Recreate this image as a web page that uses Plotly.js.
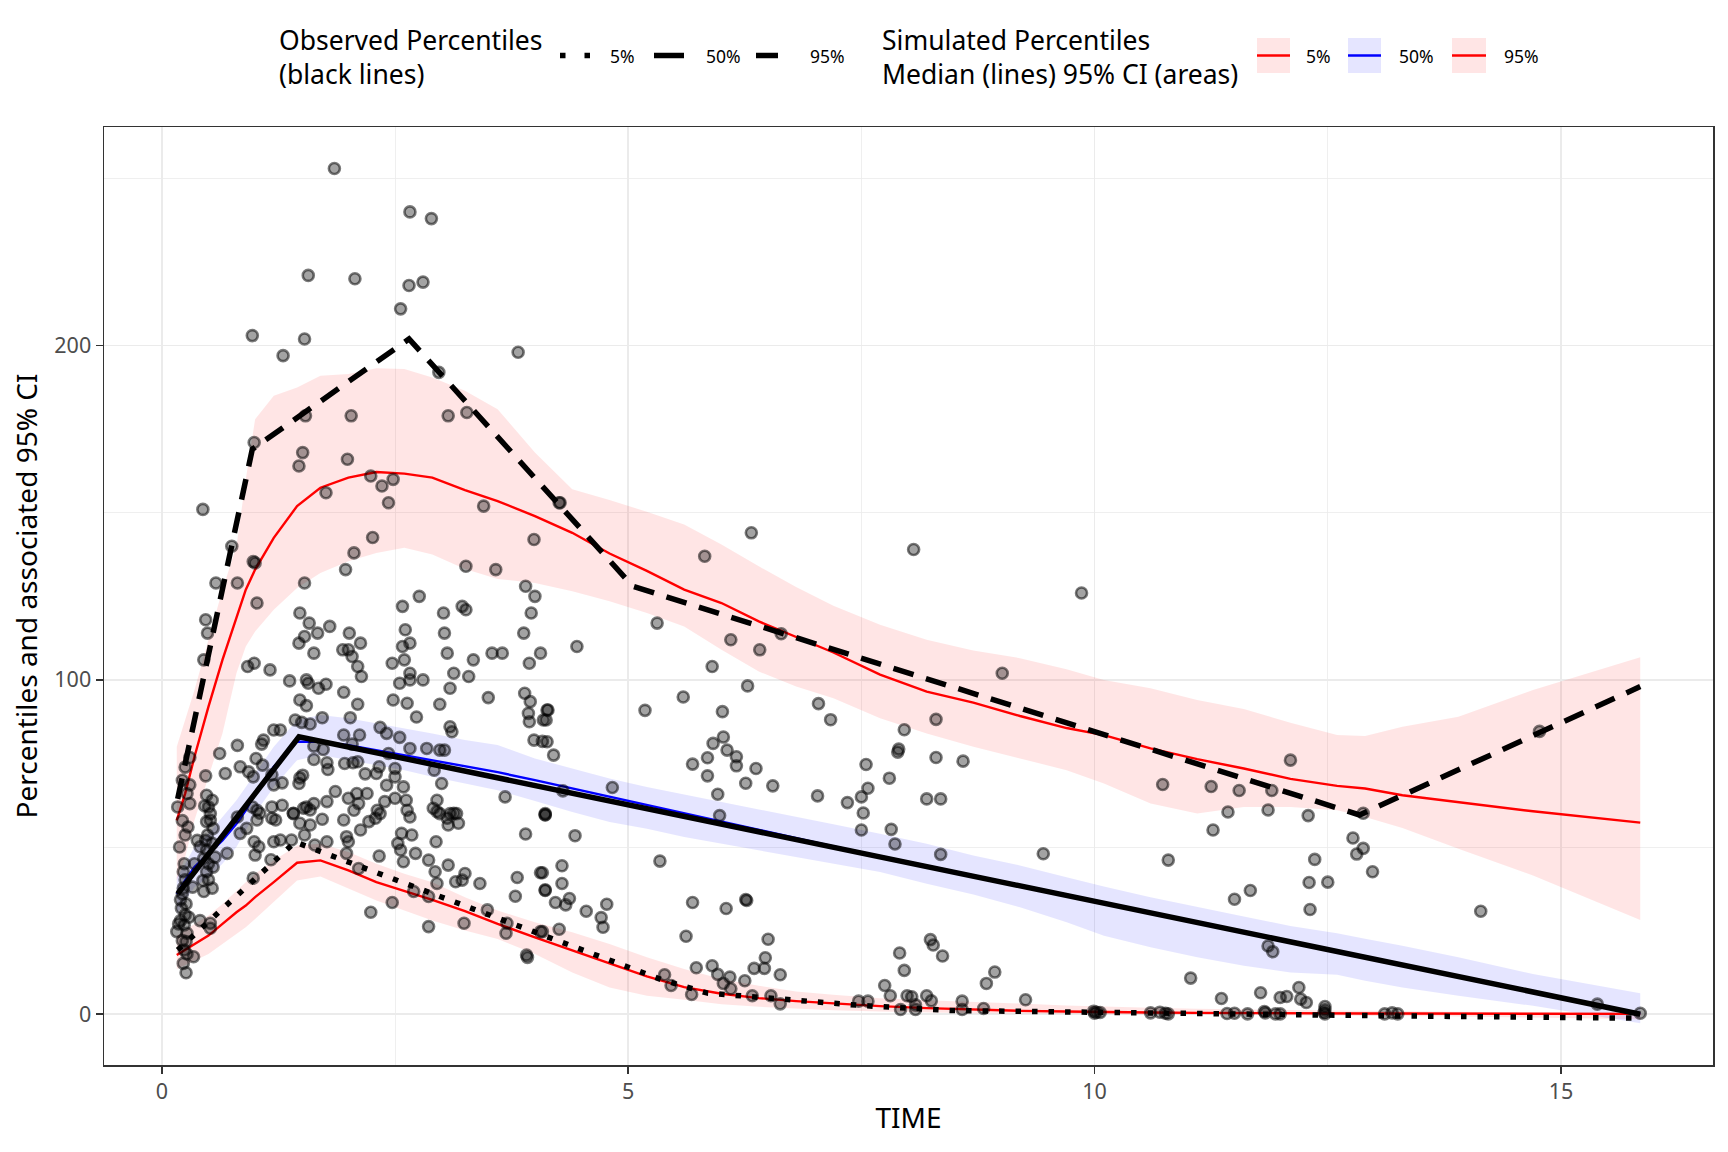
<!DOCTYPE html>
<html>
<head>
<meta charset="utf-8">
<script src="https://cdn.plot.ly/plotly-3.0.1.min.js"></script>
<style>
  html, body { margin: 0; padding: 0; background: #fff; }
  #chart { width: 1728px; height: 1152px; }
</style>
</head>
<body>
<div id="chart"></div>
<script>
// observed concentrations [time, value]
var observed = [
  // upper cloud
  [1.85,253],[2.66,240],[2.89,238],[1.57,221],[2.07,220],[2.65,218],[2.8,219],[2.56,211],[0.97,203],[1.53,202],
  [1.3,197],[3.82,198],[2.97,192],[1.54,179],[2.03,179],[3.07,179],[3.27,180],[0.99,171],[1.51,168],[1.47,164],
  [1.99,166],[2.24,161],[2.36,158],[2.48,160],[2.43,153],[1.76,156],[3.45,152],[4.26,153],[0.44,151],[2.26,142.6],
  [3.99,142],
  // 0.3 - 4.1 h, 60 - 140
  [0.75,140],[0.98,135.4],[1.0,135],[0.58,129],[0.81,129],[1.53,129],[1.02,123],[2.06,138],[1.97,133],[3.26,134],
  [3.58,133],[0.47,118],[0.49,114],[0.45,106],[0.92,104],[0.99,105],[1.16,103],[1.48,120],[1.58,117],[1.67,114],
  [1.8,116],[1.53,113],[1.47,111],[1.63,108],[2.01,114],[2.13,111],[1.94,109],[2.0,109],[2.04,107],[2.1,104],
  [2.14,101],[2.58,122],[2.76,125],[2.61,115],[2.66,111],[2.58,110],[2.47,105],[2.6,106],[2.66,102],[2.66,100],
  [2.55,99],[2.8,100],[3.02,120],[3.22,122],[3.26,121],[3.03,114],[3.06,108],[3.34,106],[3.13,102],[3.29,101],
  [3.09,97.5],[3.54,108],[3.65,108],[3.9,128],[4.0,125],[3.96,120],[3.88,114],[4.06,108],[3.94,105],[3.89,96],
  [3.95,93.5],[3.93,90],[3.94,87.5],[4.09,88],[4.13,91],[3.99,82],[4.08,81.6],[3.5,94.7],[2.98,92.7],[1.37,99.7],
  [1.55,100],[1.57,99],[1.68,97.5],[1.76,98.7],[1.95,96.3],[1.48,94],[1.55,92.3],[2.1,92.7],[2.02,88.7],[2.48,94],
  [2.63,93],[2.73,88.9],[2.34,85.8],[2.41,84],[2.55,82.8],[3.09,86],[3.11,84.5],[2.98,79],[2.84,79.5],[3.03,79],
  [2.66,79.5],[2.43,78],[2.33,74],[2.5,73.5],[2.59,68],[2.3,72],[2.41,68.5],[2.5,71],[2.92,73],[3.0,69],
  [3.68,65],[1.43,88],[1.5,87.3],[1.59,86.8],[1.2,85],[1.27,85],[1.72,88.7],[1.95,83.5],[2.12,83.5],[1.63,80.2],
  [1.73,79.2],[2.04,80.8],[1.96,75],[2.05,75.2],[2.1,75.5],[2.18,71.9],[1.63,76.2],[1.77,75.2],[1.78,73.2],[1.48,70.7],
  [1.51,71.5],[1.47,69],[1.29,69.2],[1.09,82],[1.07,80.8],[0.81,80.4],[0.62,78],[1.01,76.5],[0.84,74],[0.93,72.5],
  [0.98,71],[0.68,72],[0.47,71.3],[0.3,76.8],[0.25,73.9],[0.3,68.6],[1.08,74.5],[1.2,68.6],[1.18,71.6],[2.39,63.6],
  [2.34,60],[2.62,64],[2.63,61],[2.66,59],[2.95,64],[2.98,60],[3.09,60],[3.16,60],[4.11,60],[1.77,63.6],
  [1.86,66.6],[2.0,64.6],[2.09,66],[2.2,66],[2.11,63],[2.06,61],[2.31,61],[2.5,64.6],[1.55,62],[1.63,63],
  [1.41,60],[1.29,62.5],[1.18,62],[0.97,62],[1.02,61],[0.81,59],[0.48,65.5],[0.54,64],[0.5,62],
  // early, low values
  [0.22,57.9],[0.25,53.6],[0.46,62.3],[0.52,60],[0.48,57.6],[0.55,55.6],[0.49,53.6],[0.54,51.1],[0.48,49.1],[0.41,50.1],
  [0.45,46.6],[0.23,42.6],[0.25,40.2],[0.23,37.7],[0.48,42.6],[0.5,40.2],[0.54,37.7],[0.45,36.7],[0.55,44],[0.57,47],
  [0.21,31.7],[0.25,29.7],[0.24,26.7],[0.16,24.7],[0.27,24.2],[0.26,21.7],[0.24,19.2],[0.23,15.2],[0.26,12.4],[0.34,17.2],
  [0.41,28],[0.52,27.2],[0.52,25.7],[0.2,34.2],[0.7,48.1],[0.84,54.1],[0.91,55.6],[1.02,58.1],[1.05,60.1],[1.0,47.6],
  [1.04,50.1],[0.99,51.6],[0.98,40.7],[1.17,46.2],[1.2,51.6],[1.27,52.1],[1.39,52.1],[1.18,58.6],[1.22,58.1],[1.41,60.1],
  [1.52,61.6],[1.59,61.1],[1.48,57.1],[1.59,56.6],[1.72,58.3],[1.53,53.6],[1.64,50.6],[1.77,51.6],[1.98,53.1],[2.0,51.6],
  [1.98,48.1],[1.95,58.1],[2.13,55.1],[2.22,57.6],[2.29,58.6],[2.11,43.6],[2.33,47.3],[2.24,30.5],[2.47,33.4],[2.53,51.1],
  [2.56,49.1],[2.59,45.6],[2.72,48.1],[2.68,53.6],[2.57,54.1],[2.86,46.1],[2.93,42.6],[2.95,39.1],[3.07,44.6],[2.7,36.7],
  [2.86,35.2],[2.86,26.2],[3.15,39.6],[3.22,40.1],[3.25,42.1],[3.41,39.1],[3.49,31.2],[3.24,27.2],[3.7,27.2],[3.69,24.2],
  [3.81,40.9],[3.79,35.3],[4.06,42.3],[4.11,37.2],[3.91,17.7],[3.92,17.0],[4.06,24.7],[2.94,51.6],[3.06,58.6],[3.07,56.6],
  [3.18,57.1],[3.13,60.1],[2.91,61.6],[2.95,60.6],[3.9,53.9],[4.11,59.6],
  [0.2,28],[0.22,36],[0.24,45],[0.19,50],[0.26,33],[0.22,22],[0.27,18],[0.18,27],[0.5,45],[0.47,52],
  [0.52,58],[0.44,40],[0.3,63],[0.28,56],[0.35,45],[0.38,52],[0.17,62],[0.27,66],[0.22,70],[0.33,38],[0.29,29],
  // 4 - 10 h
  [4.27,153],[6.32,144],[8.06,139],[5.82,137],[9.86,126],[5.31,117],[4.45,110],[6.1,112],[6.41,109],[6.64,113.8],
  [5.9,104],[9.01,102],[6.28,98.2],[5.59,94.9],[5.18,90.9],[6.01,90.5],[7.04,92.9],[7.17,88.1],[8.3,88.2],[7.96,85.1],
  [7.89,78.4],[7.9,79.3],[8.3,76.8],[8.59,75.7],[4.14,91],[4.12,88],[4.13,81.5],[4.2,77.5],[6.02,82.9],[5.91,81],
  [6.06,79],[5.85,76.7],[6.16,77],[6.16,74.3],[6.37,73.5],[5.69,74.8],[5.85,71.3],[6.26,69.1],[6.55,68.3],[5.96,65.8],
  [4.83,67.8],[4.3,66.8],[4.11,59.7],[5.98,59.4],[4.43,53.4],[7.03,65.3],[7.35,63.3],[7.5,65],[7.57,67.6],[7.55,74.7],
  [7.8,70.6],[7.52,60.2],[7.5,55.1],[7.82,55.3],[7.86,50.9],[8.2,64.4],[8.35,64.4],[8.35,47.8],[9.45,48],[5.34,45.8],
  [4.29,44.4],[4.08,42.3],[4.29,39.1],[4.11,37],[4.37,34.6],[4.33,32.7],[4.22,33.4],[4.55,30.8],[4.77,32.9],[4.71,28.9],
  [4.73,26],[4.26,25.4],[4.08,24.7],[6.26,34.3],[6.27,34.0],[5.69,33.4],[6.05,31.6],[5.62,23.3],[6.5,22.4],[6.47,16.9],
  [6.46,13.7],[6.35,13.7],[6.63,11.8],[5.73,13.9],[5.9,14.5],[5.96,11.9],[6.09,11.1],[6.02,9.2],[6.1,7.6],[6.25,10],
  [5.39,11.8],[5.46,8.6],[5.68,5.9],[6.33,5.5],[6.53,5.5],[6.63,3.1],[7.91,18.3],[7.96,13.1],[8.24,22.3],[8.27,20.7],
  [8.37,17.4],[7.75,8.6],[7.81,5.5],[7.99,5.5],[8.04,5.2],[8.08,2.8],[7.92,1.4],[8.2,5.5],[8.25,4],[8.08,1.4],
  [7.47,3.9],[7.57,3.9],[8.58,3.9],[8.58,1.4],[8.84,9.2],[8.93,12.6],[8.81,1.7],[9.26,4.3],[9.99,0.9],
  // late
  [12.1,76],[10.73,68.7],[11.25,68.1],[11.55,66.9],[11.9,66.9],[11.43,60.5],[11.86,61.1],[11.27,55.1],[12.29,59.4],[12.88,60.1],
  [12.77,52.7],[12.88,49.6],[12.81,47.9],[12.98,42.6],[12.36,46.3],[12.3,39.4],[12.5,39.5],[12.31,31.3],[10.79,46.1],[11.5,34.4],
  [11.67,37],[14.14,30.8],[14.77,84.6],[11.86,20.4],[11.91,18.7],[11.03,10.8],[11.36,4.7],[11.78,6.4],[11.99,5],[12.06,5.3],
  [12.19,8],[12.21,4.5],[12.27,3.5],[12.47,2.3],[12.47,1.3],[15.39,3],[15.85,0.3],[10.06,0.5],[10.6,0.4],[10.76,0.3],
  [10.79,0.1],[11.5,0.3],[11.64,0.1],[11.82,0.8],[11.83,0.4],[11.94,0.1],[11.99,0.1],[12.46,0.5],[12.47,0.1],[13.11,0.1],
  [13.19,0.4],[13.25,0.1],[10.0,0.3],[10.02,0.6],[10.7,0.6],[11.42,0.2]
];

// observed percentiles (black lines)
var obs5Time  = [0.17, 1.43, 2.64, 4.0, 5.35, 5.85, 6.5, 7.5, 8.45, 9.95, 12.0, 13.2, 15.85];
var obs5      = [19.2, 51.5, 38.8, 24.5, 10.4, 6.3, 4.9, 2.6, 1.1, 0.5, 0, -0.5, -1.2];
var obs50Time = [0.17, 1.47, 15.85];
var obs50     = [36, 83, 0];
var obs95Time = [0.17, 0.97, 2.65, 5.05, 12.84, 15.85];
var obs95     = [64.4, 169, 202, 128, 59.6, 98];

// simulated percentiles: median and 95% CI
var simTime = [0.16, 0.25, 0.35, 0.5, 0.65, 0.8, 0.9, 1.0, 1.2, 1.45, 1.7, 2.0, 2.3, 2.6, 2.9, 3.25, 3.6, 4.0, 4.4, 4.8,
               5.2, 5.6, 6.0, 6.4, 6.8, 7.2, 7.7, 8.2, 8.7, 9.2, 9.7, 10.1, 10.6, 11.1, 11.6, 12.1, 12.6, 12.9, 13.3, 13.9,
               14.7, 15.85];

var sim5Med = [17.7, 19.2, 20.8, 23.5, 27, 30.5, 32.5, 35, 39.5, 45.3, 46, 43, 39.5, 36.8, 34.2, 30.8, 27, 23, 19.2, 15.2,
               11.3, 8.1, 6.1, 4.8, 3.9, 3.2, 2.4, 1.8, 1.3, 1.0, 0.8, 0.6, 0.5, 0.4, 0.3, 0.3, 0.2, 0.2, 0.2, 0.2,
               0.1, 0.1];
var sim5Lo  = [13.5, 14.8, 16, 18, 21, 24, 26, 28.5, 33.5, 40, 41.2, 37.5, 34, 31, 28, 25, 22.5, 18, 12.5, 8,
               5.5, 4.3, 3, 2.2, 1.6, 1.2, 0.8, 0.5, 0.3, 0.2, 0.1, 0.1, 0, 0, -0.1, -0.2, -0.3, -0.4, -0.5, -0.7,
               -1.0, -1.5];
var sim5Hi  = [23.5, 25, 27, 29.5, 33, 37, 39.5, 42, 46, 50.5, 51, 48.5, 45, 42, 39.5, 35, 31, 27.5, 24.5, 21,
               17, 13.5, 10.5, 8.5, 6.8, 5.8, 4.8, 4.2, 3.8, 3.2, 2.6, 2.2, 1.9, 1.6, 1.4, 1.2, 1.0, 0.9, 0.8, 0.7,
               0.6, 0.5];

var sim50Med = [36, 40, 44, 48, 52, 57, 61, 66, 74, 81.5, 81.5, 80.5, 79, 77.5, 76, 74.2, 72.4, 70, 67.5, 65,
                62.5, 60, 57.5, 55, 52.6, 50.2, 47.3, 44.4, 41.5, 38.6, 35.7, 33.4, 30.5, 27.6, 24.8, 21.9, 19, 17.2, 14.9, 11.5,
                6.9, 0.1];
var sim50Lo  = [30, 34, 38, 41, 45, 50, 55, 60, 68, 76, 77.5, 76, 74.5, 73, 71, 69, 67, 63.8, 60.5, 57.5,
                55.5, 53, 51, 49, 47, 45, 42.5, 39, 35.8, 32, 27.5, 23.5, 20, 17, 14.5, 12.5, 11.8, 10, 8, 5.5,
                2.5, -2.7];
var sim50Hi  = [41, 45, 50, 54, 59, 64, 68, 72, 80, 88, 89.5, 88.5, 87, 85.5, 84, 82, 80.5, 76.5, 73.5, 70.5,
                68, 65.8, 63.5, 61.3, 59, 56.8, 54, 51, 47.5, 44.5, 41, 38.2, 35, 32, 29.2, 26.4, 24.2, 22.6, 20.5, 17,
                12, 6.3];

var sim95Med = [58, 66, 77, 92, 106, 119, 127, 133, 142.5, 152, 157.5, 160.5, 162.2, 161.7, 160.5, 156.8, 153.5, 149, 144, 137.8,
                132.6, 127, 123, 117.5, 112.8, 108.2, 101.6, 96.5, 93.2, 89.2, 85.6, 83.5, 79.5, 76.3, 73.5, 70.4, 68.3, 67.5, 65.5, 63.5,
                60.7, 57.3];
var sim95Lo  = [40, 47, 58, 71, 84, 102, 110, 114.5, 121, 127.5, 132, 135.5, 138, 139.5, 137.5, 133.2, 130.2, 129, 126.5, 123.5,
                120, 116, 109, 102.5, 98, 94.5, 88.5, 84, 80, 76.5, 73, 69, 63, 60, 62, 62, 61, 59, 55.7, 49.5,
                41.5, 28.2];
var sim95Hi  = [80, 88, 97, 112, 127, 140, 160, 178, 185, 187.5, 191, 191.5, 193.2, 193, 190.5, 186.5, 181, 168, 157, 153.8,
                150.3, 146.5, 140.5, 134, 127.8, 122.2, 116.5, 112, 108.8, 106.5, 103.2, 100, 97.5, 94, 91.3, 87.2, 83.5, 83.2, 86, 89,
                97, 106.8];

var FONT = 'Noto Sans, Open Sans, sans-serif';
var PINK = 'rgba(255,0,0,0.1)';
var LAVENDER = 'rgba(0,0,255,0.1)';

function band(lo, hi, fillcolor) {
    return [
        { x: simTime, y: lo, type: 'scatter', mode: 'lines', line: { width: 0 }, hoverinfo: 'skip' },
        { x: simTime, y: hi, type: 'scatter', mode: 'lines', line: { width: 0 }, fill: 'tonexty',
          fillcolor: fillcolor, hoverinfo: 'skip' }
    ];
}

function simLine(y, color) {
    return { x: simTime, y: y, type: 'scatter', mode: 'lines', line: { color: color, width: 2.4 } };
}

function obsLine(x, y, dash) {
    return { x: x, y: y, type: 'scatter', mode: 'lines', line: { color: '#000', width: 5.5, dash: dash } };
}

var points = {
    x: observed.map(function (p) { return p[0]; }),
    y: observed.map(function (p) { return p[1]; }),
    type: 'scatter',
    mode: 'markers',
    marker: { size: 11, color: 'rgba(0,0,0,0.36)', line: { color: 'rgba(0,0,0,0.52)', width: 2.6 } }
};

var data = []
    .concat(band(sim5Lo, sim5Hi, PINK))
    .concat(band(sim50Lo, sim50Hi, LAVENDER))
    .concat(band(sim95Lo, sim95Hi, PINK))
    .concat([
        simLine(sim5Med, '#FF0000'),
        simLine(sim50Med, '#0000FF'),
        simLine(sim95Med, '#FF0000'),
        points,
        obsLine(obs5Time, obs5, '5.5px,11px'),
        obsLine(obs50Time, obs50, 'solid'),
        obsLine(obs95Time, obs95, '21px,13px')
    ]);

// pixel -> paper helpers for the legend drawn above the panel
var W = 1728, H = 1152, M = { l: 104, r: 15, t: 127, b: 87 };
function px(X) { return (X - M.l) / (W - M.l - M.r); }
function py(Y) { return (H - M.b - Y) / (H - M.t - M.b); }

function label(text, X, Y, size) {
    return { text: text, x: px(X), y: py(Y), xref: 'paper', yref: 'paper', showarrow: false, align: 'left',
             xanchor: 'left', yanchor: 'middle', font: { family: FONT, size: size, color: '#000' } };
}
function keyLine(X0, X1, color, width, dash) {
    return { type: 'line', xref: 'paper', yref: 'paper', x0: px(X0), x1: px(X1), y0: py(55.5), y1: py(55.5),
             line: { color: color, width: width, dash: dash || 'solid' } };
}
function keyBox(X0, X1, fill) {
    return { type: 'rect', xref: 'paper', yref: 'paper', x0: px(X0), x1: px(X1), y0: py(73), y1: py(38),
             fillcolor: fill, line: { width: 0 } };
}

var annotations = [
    label('Observed Percentiles<br>(black lines)', 277, 57, 26.5),
    label('5%', 608, 55.5, 17.5),
    label('50%', 704, 55.5, 17.5),
    label('95%', 808, 55.5, 17.5),
    label('Simulated Percentiles<br>Median (lines) 95% CI (areas)', 880, 57, 26.5),
    label('5%', 1304, 55.5, 17.5),
    label('50%', 1397, 55.5, 17.5),
    label('95%', 1502, 55.5, 17.5)
];

var shapes = [
    keyLine(560, 590, '#000', 5.5, '5.5px,19px'),
    keyLine(654, 684, '#000', 5.5),
    keyLine(756, 788, '#000', 5.5, '22px,12px'),
    keyBox(1257, 1290, PINK), keyLine(1257, 1290, '#FF0000', 2.5),
    keyBox(1348, 1381, LAVENDER), keyLine(1348, 1381, '#0000FF', 2.5),
    keyBox(1452, 1486, PINK), keyLine(1452, 1486, '#FF0000', 2.5)
];

var axisCommon = {
    showline: true, mirror: true, linecolor: '#333333', linewidth: 1.5,
    ticks: 'outside', ticklen: 7, tickwidth: 1.5, tickcolor: '#333333',
    showgrid: true, gridcolor: '#EBEBEB', gridwidth: 1.6, zeroline: false,
    tickfont: { family: FONT, size: 21.5, color: '#4D4D4D' }
};

var layout = {
    width: W, height: H,
    margin: M,
    paper_bgcolor: '#fff', plot_bgcolor: '#fff',
    showlegend: false,
    font: { family: FONT },
    xaxis: Object.assign({}, axisCommon, {
        range: [-0.62, 16.63], tick0: 0, dtick: 5,
        minor: { dtick: 2.5, showgrid: true, gridcolor: '#EBEBEB', gridwidth: 0.8, ticks: '' },
        title: { text: 'TIME', font: { family: FONT, size: 28, color: '#000' }, standoff: 4 }
    }),
    yaxis: Object.assign({}, axisCommon, {
        range: [-15.2, 265.4], tick0: 0, dtick: 100,
        minor: { dtick: 50, showgrid: true, gridcolor: '#EBEBEB', gridwidth: 0.8, ticks: '' },
        title: { text: 'Percentiles and associated 95% CI', font: { family: FONT, size: 28, color: '#000' }, standoff: 8 }
    }),
    annotations: annotations,
    shapes: shapes
};

Plotly.newPlot('chart', data, layout, { staticPlot: true });
</script>
</body>
</html>
